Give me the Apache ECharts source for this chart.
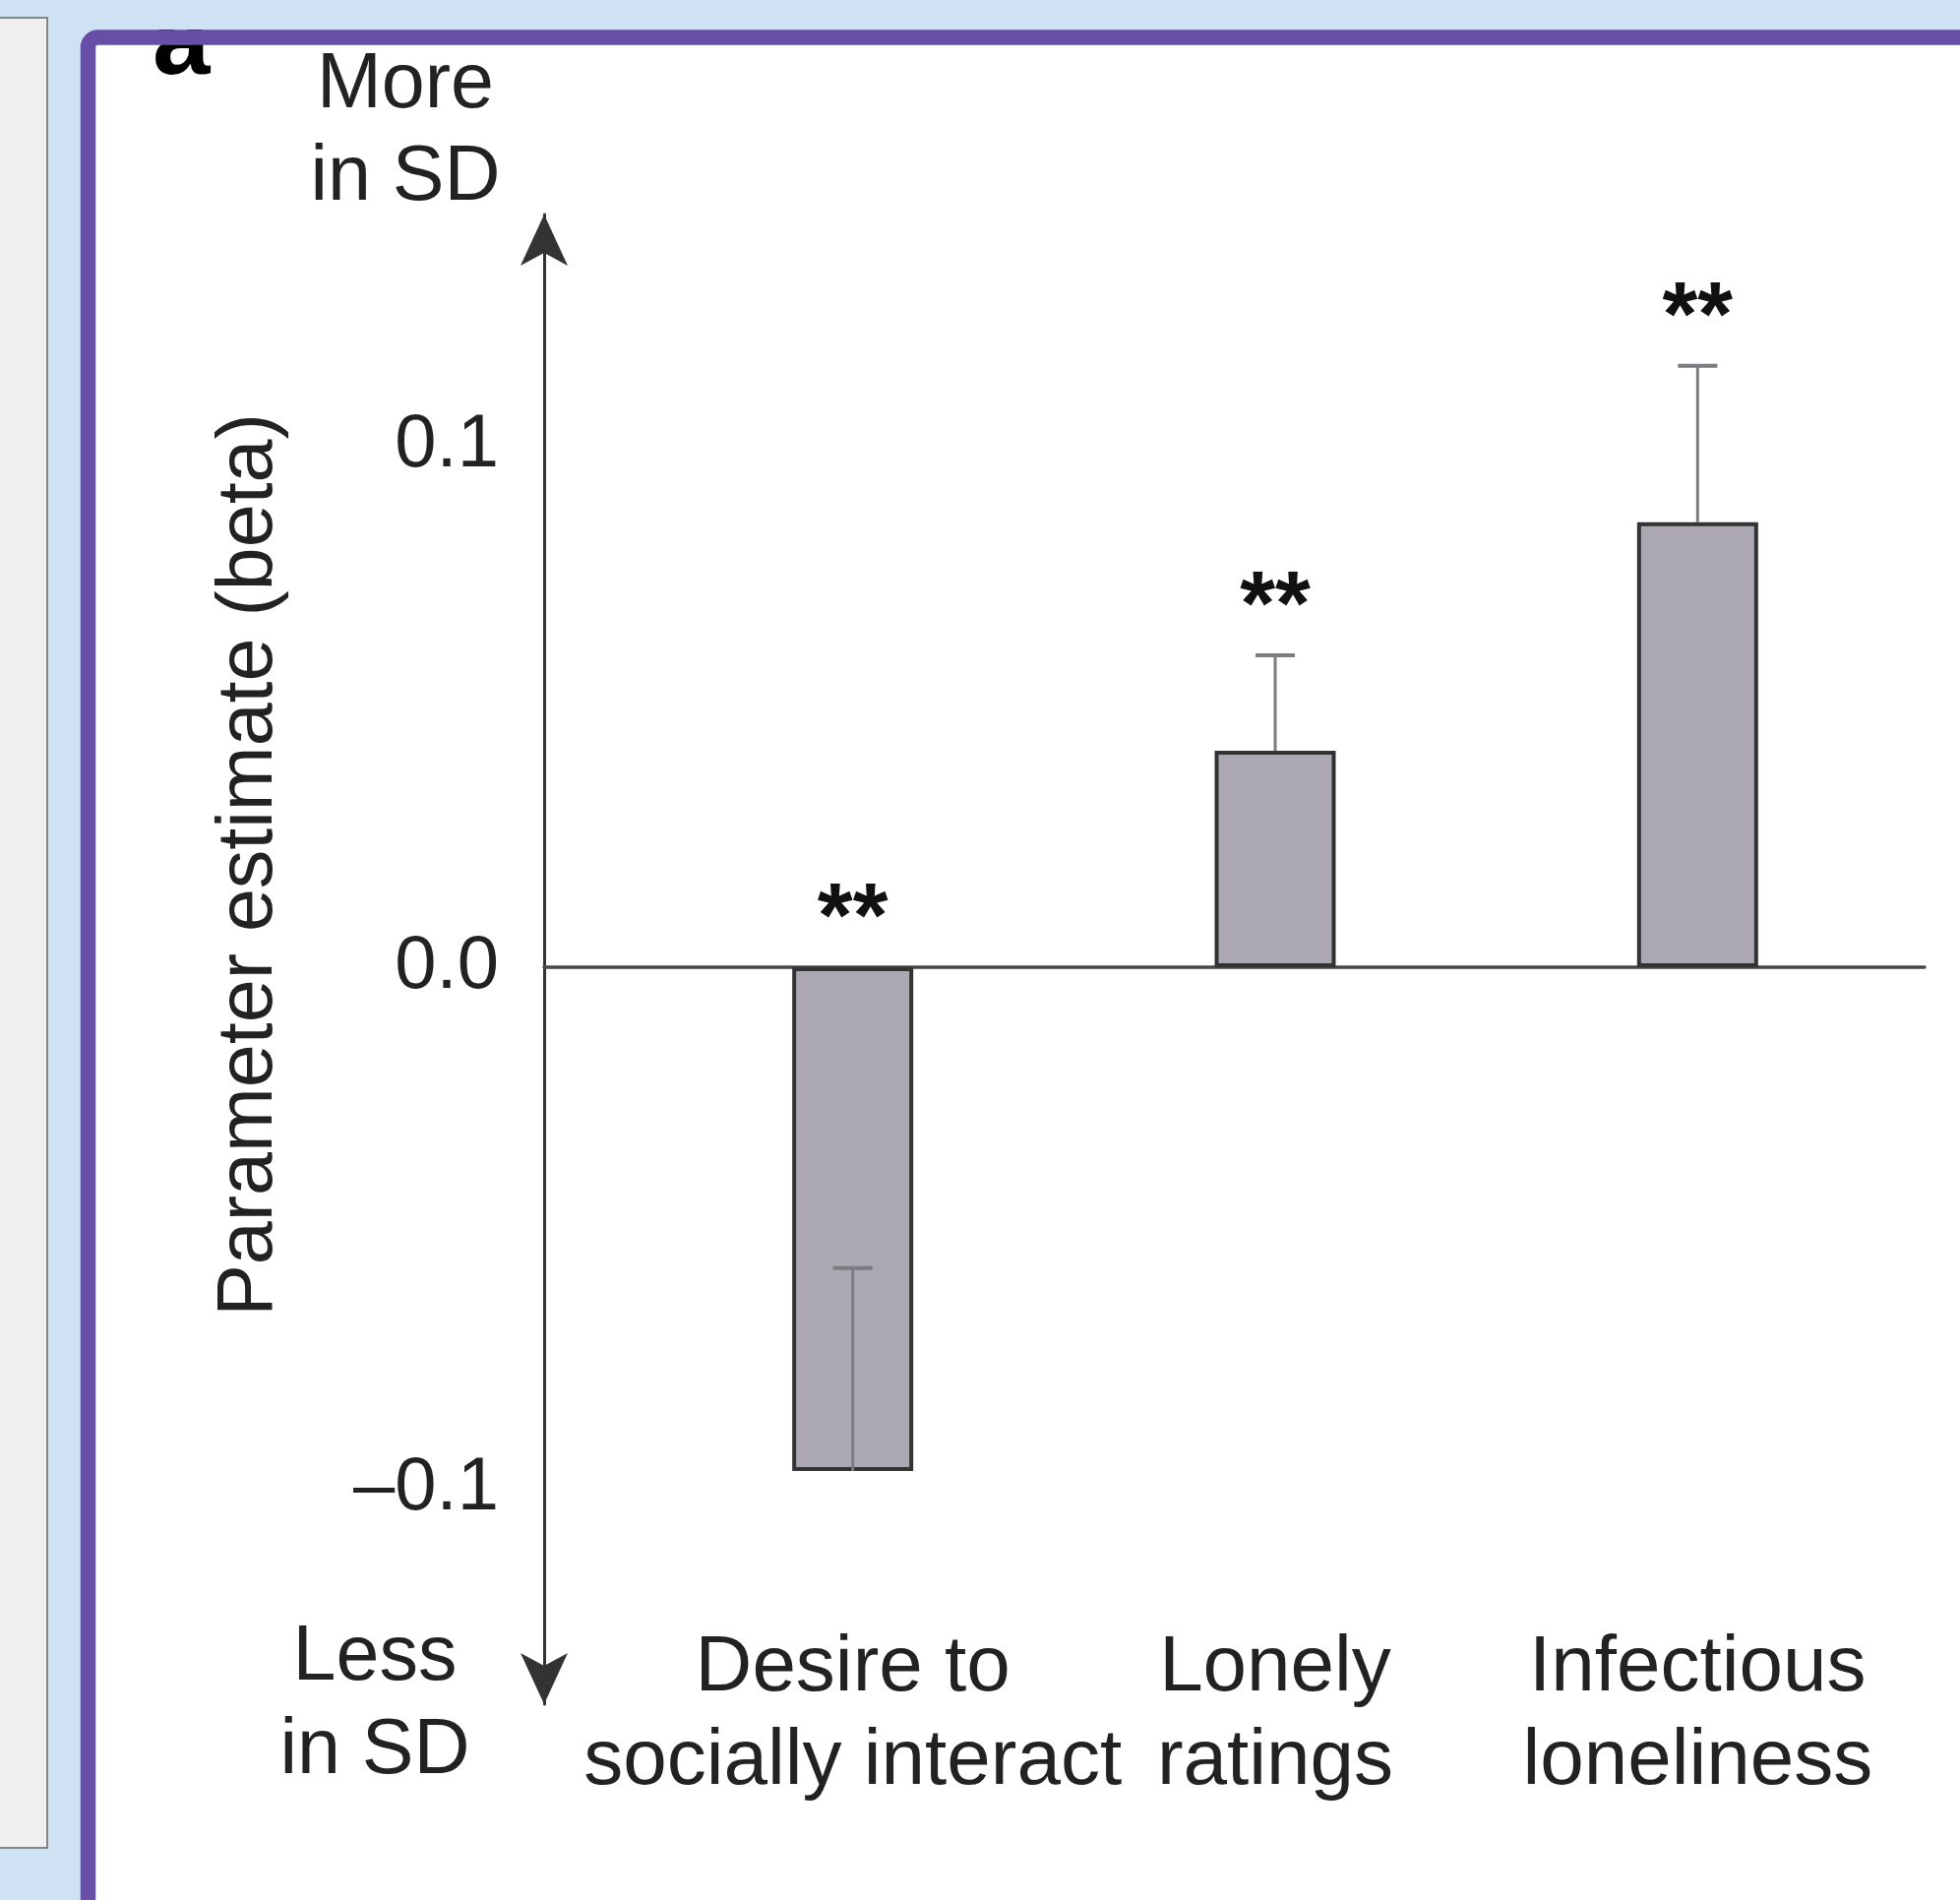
<!DOCTYPE html>
<html>
<head>
<meta charset="utf-8">
<title>Parameter estimate (beta)</title>
<script src="https://cdn.jsdelivr.net/npm/echarts@6/dist/echarts.min.js"></script>
<style>
  html, body { margin: 0; padding: 0; background: #cfe2f3; }
  #chart { width: 1992px; height: 1931px; }
</style>
</head>
<body>
<div id="chart"></div>
<script>
// values
const categories = ['Desire to\nsocially interact', 'Lonely\nratings', 'Infectious\nloneliness'];
const betaValues = [-0.0966, 0.0415, 0.0853];
const errorValues = [0.0389, 0.0183, 0.0300];
const significance = ['**', '**', '**'];
const yTicks = [-0.1, 0, 0.1];

const font = '"Liberation Sans", Arial, Helvetica, sans-serif';
const textColor = '#222';
const yMin = -0.1413;
const yMax = 0.1443;

var chartDom = document.getElementById('chart');
var myChart = echarts.init(chartDom);

function tickFormat(v) {
    if (v === 0) return '0.0';
    return (v < 0 ? '\u2013' : '') + Math.abs(v).toFixed(1);
}

var option = {
    backgroundColor: '#cfe2f3',
    animation: false,
    grid: [
        // axis frame: y arrow axis and the zero line
        { left: 553, right: 36, top: 218, bottom: 199 },
        // bars
        { left: 652, right: 52, top: 218, bottom: 199 }
    ],
    xAxis: [
        {
            gridIndex: 0,
            type: 'value',
            min: 0,
            max: 1,
            axisLine: { show: true, onZero: true, lineStyle: { color: '#484848', width: 3.5 } },
            axisTick: { show: false },
            axisLabel: { show: false },
            splitLine: { show: false }
        },
        {
            gridIndex: 1,
            type: 'category',
            data: categories,
            axisLine: { show: false, onZero: false },
            axisTick: { show: false },
            axisLabel: {
                margin: -84,
                fontSize: 80,
                lineHeight: 95,
                fontFamily: font,
                color: textColor,
                interval: 0
            }
        }
    ],
    yAxis: [
        {
            gridIndex: 0,
            type: 'value',
            min: yMin,
            max: yMax,
            name: 'Parameter estimate (beta)',
            nameLocation: 'middle',
            nameGap: 259,
            nameTextStyle: {
                fontSize: 79,
                lineHeight: 80,
                fontFamily: font,
                color: textColor,
                padding: [0, 0, 0, 192]
            },
            axisLine: {
                show: true,
                symbol: ['arrow', 'arrow'],
                symbolSize: [36, 52],
                lineStyle: { color: '#333', width: 3 }
            },
            axisTick: { show: false },
            axisLabel: {
                customValues: yTicks,
                formatter: tickFormat,
                margin: 46,
                fontSize: 76,
                fontFamily: font,
                color: textColor
            },
            splitLine: { show: false }
        },
        {
            gridIndex: 1,
            type: 'value',
            min: yMin,
            max: yMax,
            show: false
        }
    ],
    graphic: [
        {
            type: 'rect',
            z: -10,
            shape: { x: -2, y: 18, width: 50, height: 1860 },
            style: { fill: '#efefef', stroke: '#666', lineWidth: 1.5 }
        },
        {
            type: 'rect',
            z: -10,
            shape: { x: 89.5, y: 38, width: 2000, height: 2000, r: 10 },
            style: { fill: '#fff' }
        },
        {
            type: 'text',
            z: 50,
            x: 155,
            y: 46,
            style: { text: 'a', fontSize: 105, fontWeight: 'bold', fontFamily: font, fill: '#000', align: 'left', verticalAlign: 'middle' }
        },
        {
            type: 'rect',
            z: 99,
            shape: { x: 120, y: 0, width: 200, height: 30 },
            style: { fill: '#cfe2f3' }
        },
        {
            type: 'rect',
            z: 100,
            shape: { x: 89.5, y: 38, width: 2000, height: 2000, r: 10 },
            style: { fill: null, stroke: '#674ea7', lineWidth: 15.5 }
        },
        {
            type: 'text',
            z: 50,
            x: 412,
            y: 134,
            style: { text: 'More\nin SD', fontSize: 79, lineHeight: 94, fontFamily: font, fill: textColor, align: 'center', verticalAlign: 'middle' }
        },
        {
            type: 'text',
            z: 50,
            x: 381,
            y: 1733,
            style: { text: 'Less\nin SD', fontSize: 79, lineHeight: 95, fontFamily: font, fill: textColor, align: 'center', verticalAlign: 'middle' }
        }
    ],
    series: [
        {
            type: 'bar',
            xAxisIndex: 1,
            yAxisIndex: 1,
            barWidth: 123,
            data: betaValues,
            itemStyle: { color: '#aca8b3', borderColor: '#333', borderWidth: 4 },
            z: 3
        },
        {
            type: 'custom',
            xAxisIndex: 1,
            yAxisIndex: 1,
            z: 4,
            data: betaValues.map(function (v, i) { return [i, v, errorValues[i]]; }),
            encode: { x: 0, y: 1 },
            renderItem: function (params, api) {
                var i = api.value(0);
                var v = api.value(1);
                var e = api.value(2);
                var base = api.coord([i, v]);
                var tip = api.coord([i, v + e]);
                var starAt = api.coord([i, Math.max(0, v + e)]);
                return {
                    type: 'group',
                    children: [
                        {
                            type: 'line',
                            shape: { x1: base[0], y1: base[1], x2: tip[0], y2: tip[1] },
                            style: { stroke: '#7d7b82', lineWidth: 3 }
                        },
                        {
                            type: 'line',
                            shape: { x1: tip[0] - 20, y1: tip[1], x2: tip[0] + 20, y2: tip[1] },
                            style: { stroke: '#7d7b82', lineWidth: 4 }
                        },
                        {
                            type: 'text',
                            x: starAt[0],
                            y: starAt[1] - 46,
                            style: {
                                text: significance[params.dataIndex],
                                fontSize: 92,
                                fontWeight: 'bold',
                                fontFamily: font,
                                fill: '#111',
                                align: 'center',
                                verticalAlign: 'middle'
                            }
                        }
                    ]
                };
            }
        }
    ]
};

option && myChart.setOption(option);
</script>
</body>
</html>
